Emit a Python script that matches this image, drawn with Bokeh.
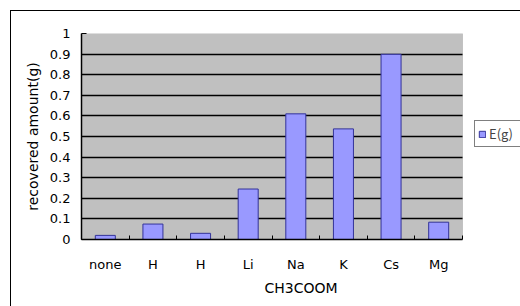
from bokeh.plotting import figure
from bokeh.models import (ColumnDataSource, FixedTicker, NumeralTickFormatter,
                          Legend, LegendItem, Range1d, BoxAnnotation, Grid)
from bokeh.embed import file_html
from bokeh.resources import INLINE

# data
categories = ["none", "H", "H", "Li", "Na", "K", "Cs", "Mg"]
values = [0.02, 0.075, 0.03, 0.245, 0.61, 0.537, 0.899, 0.084]
y_ticks = [0, 0.1, 0.2, 0.3, 0.4, 0.5, 0.6, 0.7, 0.8, 0.9, 1.0]
series_name = "E(g)"
x_title = "CH3COOM"
y_title = "recovered amount(g)"

n = len(categories)
xs = [i + 0.5 for i in range(n)]
src = ColumnDataSource(dict(x=xs, top=values))

W, H = 520, 306
LEFT, TOP, BOTTOM = 81, 33, 67
PLOT_W = 381                      # width of the grey plot area in px
frame_w = W - LEFT
x_end = n * frame_w / PLOT_W      # extra room right of the plot area for the legend

p = figure(width=W, height=H, output_backend="svg", toolbar_location=None,
           x_range=Range1d(0, x_end), y_range=Range1d(0, 1),
           min_border_left=LEFT, min_border_top=TOP, min_border_right=0,
           min_border_bottom=BOTTOM)
p.background_fill_color = "white"
p.border_fill_alpha = 0
p.outline_line_color = None
# outer chart border (left & top visible in window)
p.styles = {"box-shadow": "inset 10px 10px 0 0 white, inset 11px 11px 0 0 black",
            "background-color": "white"}

area = BoxAnnotation(left=0, right=n, bottom=0, top=1, fill_color="#C0C0C0",
                     fill_alpha=1, line_color="#808080", line_width=1,
                     level="image")
p.add_layout(area)

p.xgrid.grid_line_color = None
if "cross_bounds" in Grid.properties():
    p.ygrid.grid_line_color = "black"
    p.ygrid.grid_line_width = 1.3
    p.ygrid.ticker = FixedTicker(ticks=y_ticks)
    p.ygrid.cross_bounds = (0, n)
else:
    p.ygrid.grid_line_color = None
    p.segment(x0=[0] * len(y_ticks), x1=[n] * len(y_ticks), y0=y_ticks,
              y1=y_ticks, line_color="black", line_width=1.3, level="underlay")

r = p.vbar(x="x", top="top", width=0.42, source=src,
           fill_color="#9999FF", line_color="#333399", line_width=1)

font = "DejaVu Sans"
# x axis
xa = p.xaxis[0]
xa.bounds = (0, n)
xa.ticker = FixedTicker(ticks=xs, minor_ticks=list(range(n + 1)))
xa.major_label_overrides = {x: c for x, c in zip(xs, categories)}
xa.major_tick_in = 0
xa.major_tick_out = 0
xa.minor_tick_in = 4
xa.minor_tick_out = 0
xa.minor_tick_line_color = "black"
xa.axis_line_color = "black"
xa.axis_line_width = 1.5
xa.major_label_standoff = 17
xa.major_label_text_font = font
xa.major_label_text_font_size = "13px"
xa.major_label_text_color = "black"
xa.axis_label = x_title
xa.axis_label_text_font = font
xa.axis_label_text_font_size = "14px"
xa.axis_label_text_font_style = "normal"
xa.axis_label_text_color = "black"
xa.axis_label_standoff = 5

ya = p.yaxis[0]
ya.ticker = FixedTicker(ticks=y_ticks)
ya.formatter = NumeralTickFormatter(format="0.[0]")
ya.major_tick_in = 5
ya.major_tick_out = 0
ya.minor_tick_line_color = None
ya.axis_line_color = "black"
ya.axis_line_width = 1.5
ya.major_label_standoff = 11
ya.major_label_text_font = font
ya.major_label_text_font_size = "13px"
ya.major_label_text_color = "black"
ya.axis_label = y_title
ya.axis_label_text_font = font
ya.axis_label_text_font_size = "14px"
ya.axis_label_text_font_style = "normal"
ya.axis_label_text_color = "black"
ya.axis_label_standoff = 6

legend = Legend(items=[LegendItem(label=series_name, renderers=[r])],
                location=(393, 92), orientation="vertical",
                border_line_color="black", border_line_width=1,
                background_fill_color="white", background_fill_alpha=1,
                glyph_width=8, glyph_height=8, label_height=16, label_width=28,
                label_standoff=3, padding=3, margin=0, spacing=0,
                label_text_font="Noto Sans CJK JP", label_text_font_size="13px")
p.add_layout(legend, "center")

open("out.html", "w").write(file_html(p, INLINE))
